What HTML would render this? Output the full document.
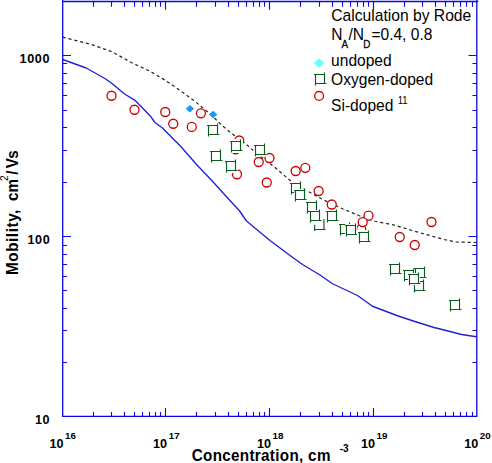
<!DOCTYPE html>
<html><head><meta charset="utf-8"><title>Mobility vs Concentration</title>
<style>html,body{margin:0;padding:0;background:#fff;}svg{display:block;}text{font-family:"Liberation Sans",sans-serif;}</style></head><body>
<svg width="492" height="463" viewBox="0 0 492 463">
<rect width="492" height="463" fill="#ffffff"/>
<polyline points="62.70,59.50 86.25,68.00 105.30,78.75 112.30,83.75 124.20,93.75 135.00,100.30 142.50,108.00 150.00,115.70 155.00,122.50 162.50,128.00 180.75,146.50 197.00,165.00 212.50,181.25 228.75,199.25 239.25,210.50 246.25,220.75 254.25,227.50 270.00,240.50 290.00,255.50 302.50,264.50 320.00,275.00 332.50,283.75 357.50,295.50 372.50,306.25 397.50,315.75 412.50,320.75 434.00,327.50 449.00,331.25 461.50,334.50 476.50,336.75" fill="none" stroke="#2020d4" stroke-width="1.35" stroke-linejoin="round"/>
<polyline points="62.70,37.10 91.25,44.50 112.50,52.00 131.25,62.50 150.00,71.25 162.50,78.60 168.10,82.20 185.20,94.00 190.00,97.80 195.10,101.40 201.50,106.90 207.40,111.70 215.20,118.80 219.80,123.30 223.90,127.00 228.90,131.30 234.10,135.20 244.40,143.00 252.20,149.40 270.00,163.75 275.00,167.50 292.50,182.50 310.00,192.50 323.75,200.00 342.50,208.75 358.75,215.50 375.00,221.25 394.00,225.00 419.00,232.50 444.00,239.50 456.50,242.00 476.50,242.50" fill="none" stroke="#262626" stroke-width="1.25" stroke-dasharray="3.1 2.9"/>
<circle cx="111.50" cy="95.75" r="4.5" fill="#fff" stroke="#cc0000" stroke-width="1.3"/>
<circle cx="134.50" cy="109.75" r="4.5" fill="#fff" stroke="#cc0000" stroke-width="1.3"/>
<circle cx="165.25" cy="112.00" r="4.5" fill="#fff" stroke="#cc0000" stroke-width="1.3"/>
<circle cx="173.25" cy="123.75" r="4.5" fill="#fff" stroke="#cc0000" stroke-width="1.3"/>
<circle cx="191.75" cy="126.90" r="4.5" fill="#fff" stroke="#cc0000" stroke-width="1.3"/>
<circle cx="200.90" cy="113.30" r="4.5" fill="#fff" stroke="#cc0000" stroke-width="1.3"/>
<circle cx="239.25" cy="140.50" r="4.5" fill="#fff" stroke="#cc0000" stroke-width="1.3"/>
<circle cx="235.75" cy="149.25" r="4.5" fill="#fff" stroke="#cc0000" stroke-width="1.3"/>
<circle cx="237.00" cy="174.25" r="4.5" fill="#fff" stroke="#cc0000" stroke-width="1.3"/>
<circle cx="258.75" cy="162.00" r="4.5" fill="#fff" stroke="#cc0000" stroke-width="1.3"/>
<circle cx="269.50" cy="158.00" r="4.5" fill="#fff" stroke="#cc0000" stroke-width="1.3"/>
<circle cx="266.75" cy="182.50" r="4.5" fill="#fff" stroke="#cc0000" stroke-width="1.3"/>
<circle cx="295.70" cy="171.00" r="4.5" fill="#fff" stroke="#cc0000" stroke-width="1.3"/>
<circle cx="305.30" cy="167.80" r="4.5" fill="#fff" stroke="#cc0000" stroke-width="1.3"/>
<circle cx="318.65" cy="191.00" r="4.5" fill="#fff" stroke="#cc0000" stroke-width="1.3"/>
<circle cx="331.75" cy="204.50" r="4.5" fill="#fff" stroke="#cc0000" stroke-width="1.3"/>
<circle cx="361.20" cy="229.20" r="4.5" fill="#fff" stroke="#cc0000" stroke-width="1.3"/>
<circle cx="368.50" cy="215.70" r="4.5" fill="#fff" stroke="#cc0000" stroke-width="1.3"/>
<circle cx="362.70" cy="222.10" r="4.5" fill="#fff" stroke="#cc0000" stroke-width="1.3"/>
<circle cx="431.50" cy="222.00" r="4.5" fill="#fff" stroke="#cc0000" stroke-width="1.3"/>
<circle cx="399.75" cy="237.00" r="4.5" fill="#fff" stroke="#cc0000" stroke-width="1.3"/>
<circle cx="414.75" cy="245.00" r="4.5" fill="#fff" stroke="#cc0000" stroke-width="1.3"/>
<rect x="207.10" y="124.10" width="11.80" height="11.80" fill="#fff"/><path d="M207.00 125.50H217.50 M217.50 123.50V134.50 M208.50 134.50H219.50 M208.50 125.50V136.50" fill="none" stroke="#0b5a1e" stroke-width="1.15"/>
<rect x="229.00" y="139.00" width="14.00" height="14.00" fill="#fff"/><path d="M230.00 141.50H240.50 M240.50 139.50V150.50 M231.50 150.50H242.50 M231.50 141.50V152.50" fill="none" stroke="#0b5a1e" stroke-width="1.15"/>
<rect x="210.10" y="150.10" width="11.80" height="11.80" fill="#fff"/><path d="M210.00 151.50H220.50 M220.50 149.50V160.50 M211.50 160.50H222.50 M211.50 151.50V162.50" fill="none" stroke="#0b5a1e" stroke-width="1.15"/>
<rect x="224.00" y="159.00" width="14.00" height="14.00" fill="#fff"/><path d="M225.00 161.50H235.50 M235.50 159.50V170.50 M226.50 170.50H237.50 M226.50 161.50V172.50" fill="none" stroke="#0b5a1e" stroke-width="1.15"/>
<rect x="253.40" y="143.40" width="13.20" height="13.20" fill="#fff"/><path d="M254.00 145.50H264.50 M264.50 143.50V154.50 M255.50 154.50H266.50 M255.50 145.50V156.50" fill="none" stroke="#0b5a1e" stroke-width="1.15"/>
<rect x="290.10" y="182.10" width="11.80" height="11.80" fill="#fff"/><path d="M290.00 183.50H300.50 M300.50 181.50V192.50 M291.50 192.50H302.50 M291.50 183.50V194.50" fill="none" stroke="#0b5a1e" stroke-width="1.15"/>
<rect x="294.10" y="189.10" width="11.80" height="11.80" fill="#fff"/><path d="M294.00 190.50H304.50 M304.50 188.50V199.50 M295.50 199.50H306.50 M295.50 190.50V201.50" fill="none" stroke="#0b5a1e" stroke-width="1.15"/>
<rect x="306.10" y="201.10" width="11.80" height="11.80" fill="#fff"/><path d="M306.00 202.50H316.50 M316.50 200.50V211.50 M307.50 211.50H318.50 M307.50 202.50V213.50" fill="none" stroke="#0b5a1e" stroke-width="1.15"/>
<path d="M323.95 218.95V229.45 M314.65 229.45H325.55 M314.65 224.80V231.05" fill="none" stroke="#0b5a1e" stroke-width="1.15"/>
<rect x="309.10" y="210.10" width="11.80" height="11.80" fill="#fff"/><path d="M309.00 211.50H319.50 M319.50 209.50V220.50 M310.50 220.50H321.50 M310.50 211.50V222.50" fill="none" stroke="#0b5a1e" stroke-width="1.15"/>
<rect x="326.10" y="210.10" width="11.80" height="11.80" fill="#fff"/><path d="M326.00 211.50H336.50 M336.50 209.50V220.50 M327.50 220.50H338.50 M327.50 211.50V222.50" fill="none" stroke="#0b5a1e" stroke-width="1.15"/>
<rect x="339.10" y="223.10" width="11.80" height="11.80" fill="#fff"/><path d="M339.00 224.50H349.50 M349.50 222.50V233.50 M340.50 233.50H351.50 M340.50 224.50V235.50" fill="none" stroke="#0b5a1e" stroke-width="1.15"/>
<rect x="345.10" y="224.10" width="11.80" height="11.80" fill="#fff"/><path d="M345.00 225.50H355.50 M355.50 223.50V234.50 M346.50 234.50H357.50 M346.50 225.50V236.50" fill="none" stroke="#0b5a1e" stroke-width="1.15"/>
<rect x="357.00" y="230.00" width="14.00" height="14.00" fill="#fff"/><path d="M358.00 232.50H368.50 M368.50 230.50V241.50 M359.50 241.50H370.50 M359.50 232.50V243.50" fill="none" stroke="#0b5a1e" stroke-width="1.15"/>
<rect x="389.10" y="263.10" width="11.80" height="11.80" fill="#fff"/><path d="M389.00 264.50H399.50 M399.50 262.50V273.50 M390.50 273.50H401.50 M390.50 264.50V275.50" fill="none" stroke="#0b5a1e" stroke-width="1.15"/>
<rect x="414.10" y="267.10" width="11.80" height="11.80" fill="#fff"/><path d="M414.00 268.50H424.50 M424.50 266.50V277.50 M415.50 277.50H426.50 M415.50 268.50V279.50" fill="none" stroke="#0b5a1e" stroke-width="1.15"/>
<rect x="413.10" y="280.10" width="11.80" height="11.80" fill="#fff"/><path d="M413.00 281.50H423.50 M423.50 279.50V290.50 M414.50 290.50H425.50 M414.50 281.50V292.50" fill="none" stroke="#0b5a1e" stroke-width="1.15"/>
<rect x="403.10" y="269.10" width="11.80" height="11.80" fill="#fff"/><path d="M403.00 270.50H413.50 M413.50 268.50V279.50 M404.50 279.50H415.50 M404.50 270.50V281.50" fill="none" stroke="#0b5a1e" stroke-width="1.15"/>
<rect x="408.10" y="273.10" width="11.80" height="11.80" fill="#fff"/><path d="M408.00 274.50H418.50 M418.50 272.50V283.50 M409.50 283.50H420.50 M409.50 274.50V285.50" fill="none" stroke="#0b5a1e" stroke-width="1.15"/>
<rect x="449.10" y="299.10" width="11.80" height="11.80" fill="#fff"/><path d="M449.00 300.50H459.50 M459.50 298.50V309.50 M450.50 309.50H461.50 M450.50 300.50V311.50" fill="none" stroke="#0b5a1e" stroke-width="1.15"/>
<path d="M185.70 108.70L189.90 104.90L194.10 108.70L189.90 112.50Z" fill="#1e96ff"/>
<path d="M208.90 114.50L213.10 110.70L217.30 114.50L213.10 118.30Z" fill="#1e96ff"/>
<rect x="308" y="6.8" width="168" height="110" fill="#fff"/>
<g stroke="#0a0ade" stroke-width="1.3" fill="none">
<path d="M62.70 1.50H478.30 M62.70 0.00V416.30 M476.80 0.00V416.80 M62.10 416.30H477.40"/>
</g>
<path d="M93.50 416.30v-4.40 M93.50 1.50v5.20 M111.50 416.30v-4.40 M111.50 1.50v5.20 M124.50 416.30v-4.40 M124.50 1.50v5.20 M134.50 416.30v-4.40 M134.50 1.50v5.20 M142.50 416.30v-4.40 M142.50 1.50v5.20 M149.50 416.30v-4.40 M149.50 1.50v5.20 M155.50 416.30v-4.40 M155.50 1.50v5.20 M160.50 416.30v-4.40 M160.50 1.50v5.20 M165.50 416.30v-8.30 M165.50 1.50v8.30 M196.50 416.30v-4.40 M196.50 1.50v5.20 M215.50 416.30v-4.40 M215.50 1.50v5.20 M228.50 416.30v-4.40 M228.50 1.50v5.20 M238.50 416.30v-4.40 M238.50 1.50v5.20 M246.50 416.30v-4.40 M246.50 1.50v5.20 M253.50 416.30v-4.40 M253.50 1.50v5.20 M259.50 416.30v-4.40 M259.50 1.50v5.20 M264.50 416.30v-4.40 M264.50 1.50v5.20 M269.50 416.30v-8.30 M269.50 1.50v8.30 M300.50 416.30v-4.40 M300.50 1.50v5.20 M319.50 416.30v-4.40 M319.50 1.50v5.20 M332.50 416.30v-4.40 M332.50 1.50v5.20 M342.50 416.30v-4.40 M342.50 1.50v5.20 M350.50 416.30v-4.40 M350.50 1.50v5.20 M357.50 416.30v-4.40 M357.50 1.50v5.20 M363.50 416.30v-4.40 M363.50 1.50v5.20 M368.50 416.30v-4.40 M368.50 1.50v5.20 M373.50 416.30v-8.30 M373.50 1.50v7.60 M404.50 416.30v-4.40 M404.50 1.50v5.20 M422.50 416.30v-4.40 M422.50 1.50v5.20 M435.50 416.30v-4.40 M435.50 1.50v5.20 M445.50 416.30v-4.40 M445.50 1.50v5.20 M453.50 416.30v-4.40 M453.50 1.50v5.20 M460.50 416.30v-4.40 M460.50 1.50v5.20 M466.50 416.30v-4.40 M466.50 1.50v5.20 M472.50 416.30v-4.40 M472.50 1.50v5.20 M62.70 362.50h4.40 M476.80 362.50h-4.40 M62.70 330.50h4.40 M476.80 330.50h-4.40 M62.70 308.50h4.40 M476.80 308.50h-4.40 M62.70 290.50h4.40 M476.80 290.50h-4.40 M62.70 276.50h4.40 M476.80 276.50h-4.40 M62.70 264.50h4.40 M476.80 264.50h-4.40 M62.70 254.50h4.40 M476.80 254.50h-4.40 M62.70 245.50h4.40 M476.80 245.50h-4.40 M62.70 236.50h8.30 M476.80 236.50h-8.30 M62.70 182.50h4.40 M476.80 182.50h-4.40 M62.70 150.50h4.40 M476.80 150.50h-4.40 M62.70 127.50h4.40 M476.80 127.50h-4.40 M62.70 110.50h4.40 M476.80 110.50h-4.40 M62.70 95.50h4.40 M476.80 95.50h-4.40 M62.70 83.50h4.40 M476.80 83.50h-4.40 M62.70 73.50h4.40 M476.80 73.50h-4.40 M62.70 63.50h4.40 M476.80 63.50h-4.40 M62.70 55.50h8.30 M476.80 55.50h-8.30" stroke="#0a0ade" stroke-width="1.1" fill="none"/>
<text transform="translate(50.10,62.50) scale(0.93,1)" letter-spacing="0.65" font-size="13.6" font-weight="bold" text-anchor="end" fill="#000">1000</text>
<text transform="translate(50.40,243.60) scale(0.93,1)" letter-spacing="0.65" font-size="13.6" font-weight="bold" text-anchor="end" fill="#000">100</text>
<text transform="translate(50.20,423.50) scale(0.93,1)" letter-spacing="0.65" font-size="13.6" font-weight="bold" text-anchor="end" fill="#000">10</text>
<text transform="translate(49.50,447.5) scale(0.92,1)" font-size="13.7" font-weight="bold" fill="#000">10</text>
<text x="65.10" y="439.2" font-size="9.8" font-weight="bold" fill="#000">16</text>
<text transform="translate(153.10,447.5) scale(0.92,1)" font-size="13.7" font-weight="bold" fill="#000">10</text>
<text x="168.70" y="439.2" font-size="9.8" font-weight="bold" fill="#000">17</text>
<text transform="translate(257.00,447.5) scale(0.92,1)" font-size="13.7" font-weight="bold" fill="#000">10</text>
<text x="272.60" y="439.2" font-size="9.8" font-weight="bold" fill="#000">18</text>
<text transform="translate(360.90,447.5) scale(0.92,1)" font-size="13.7" font-weight="bold" fill="#000">10</text>
<text x="376.50" y="439.2" font-size="9.8" font-weight="bold" fill="#000">19</text>
<text transform="translate(464.20,447.5) scale(0.92,1)" font-size="13.7" font-weight="bold" fill="#000">10</text>
<text x="479.80" y="439.2" font-size="9.8" font-weight="bold" fill="#000">20</text>
<text transform="translate(191.8,460.7) scale(0.88,1)" letter-spacing="0.36" font-size="17.3" font-weight="bold" fill="#000">Concentration, cm</text>
<text x="339.7" y="452.0" font-size="10" font-weight="bold" fill="#000">-3</text>
<g transform="translate(18.2,275.0) rotate(-90) scale(0.88,1)" font-weight="bold" fill="#000" font-size="17.3">
<text x="0" y="0" letter-spacing="0.68">Mobility,</text>
<text x="84.1" y="0" letter-spacing="0.1">cm</text>
<text x="106.9" y="-10.2" font-size="11.5" font-weight="normal">2</text>
<text x="113.8" y="0">/</text><text x="121.4" y="0">V</text><text x="132.2" y="0">s</text>
</g>
<g transform="scale(0.935,1)" font-size="16.65" fill="#000">
<text x="354.22" y="20.8" font-size="16.75">Calculation by Rode</text>
<text x="354.22" y="39.6">N<tspan dy="8.7" font-size="10.6" dx="-1.0" stroke="#000" stroke-width="0.25">A</tspan><tspan dy="-8.7" dx="0.4">/N</tspan><tspan dy="8.7" font-size="10.6" dx="-0.8" stroke="#000" stroke-width="0.25">D</tspan><tspan dy="-8.7" dx="1.0">=0.4, 0.8</tspan></text>
<text x="354.12" y="66.3">undoped</text>
<text x="354.12" y="84.9">Oxygen-doped</text>
<text x="354.12" y="110.6">Si-doped</text>
<text x="425.45" y="104.3" font-size="10.2">11</text>
</g>
<path d="M313.90 63.00L319.10 58.20L324.30 63.00L319.10 67.80Z" fill="#66ffff"/>
<rect x="314.10" y="73.10" width="11.80" height="11.80" fill="#fff"/><path d="M314.00 74.50H324.50 M324.50 72.50V83.50 M315.50 83.50H326.50 M315.50 74.50V85.50" fill="none" stroke="#0b5a1e" stroke-width="1.15"/>
<circle cx="319.1" cy="95.9" r="4.4" fill="#fff" stroke="#cc0000" stroke-width="1.3"/>
</svg></body></html>
